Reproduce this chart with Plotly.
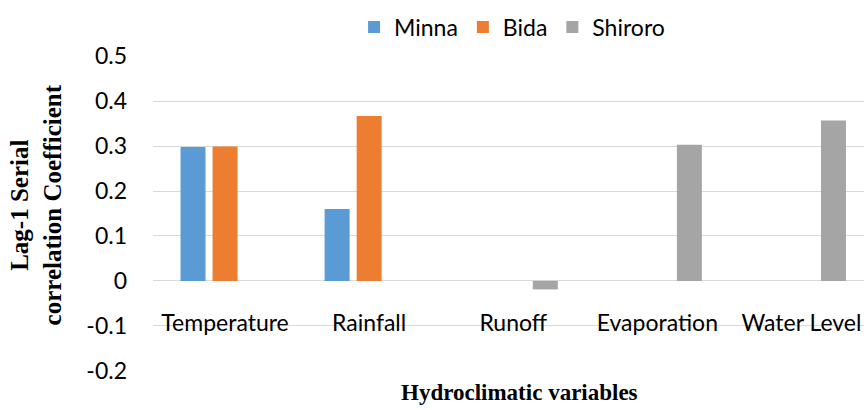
import plotly.graph_objects as go

categories = ["Temperature", "Rainfall", "Runoff", "Evaporation", "Water Level"]
minna = [0.298, 0.16, None, None, None]
bida = [0.299, 0.367, None, None, None]
shiroro = [None, None, -0.019, 0.303, 0.357]
y_tickvals = [0.5, 0.4, 0.3, 0.2, 0.1, 0, -0.1, -0.2]
y_ticktext = ["0.5", "0.4", "0.3", "0.2", "0.1", "0", "-0.1", "-0.2"]

TICKFONT = dict(family="Lato, Open Sans, sans-serif", size=23, color="#000000")
TITLEFONT = dict(family="Liberation Serif, Times New Roman, serif", size=25, color="#000000")

fig = go.Figure()
for name, vals, col in [("Minna", minna, "#5B9BD5"), ("Bida", bida, "#ED7D31"), ("Shiroro", shiroro, "#A5A5A5")]:
    fig.add_trace(go.Bar(x=categories, y=vals, name=name, marker=dict(color=col, line=dict(width=0))))

fig.update_layout(
    width=864, height=410,
    margin=dict(l=153, r=0, t=56, b=39),
    paper_bgcolor="white", plot_bgcolor="white",
    barmode="group", bargap=0.333, bargroupgap=0.22,
    showlegend=True,
    legend=dict(orientation="h", x=0.505, xanchor="center", y=1.092, yanchor="middle",
                font=TICKFONT, traceorder="normal", itemclick=False),
    xaxis=dict(type="category", range=[-0.5, 4.434], anchor="free", position=(0 + 0.2) / 0.7,
               showgrid=False, showline=False, ticks="", tickfont=TICKFONT, ticklabelstandoff=26),
    yaxis=dict(range=[-0.2005, 0.5005], tickvals=y_tickvals, ticktext=y_ticktext,
               showgrid=True, gridcolor="#D9D9D9", gridwidth=1.3,
               zeroline=True, zerolinecolor="#D9D9D9", zerolinewidth=1.3,
               showline=False, ticks="", tickfont=TICKFONT, ticklabelstandoff=25),
    annotations=[
        dict(text="<b>Lag-1 Serial<br>correlation Coefficient</b>", xref="paper", yref="paper",
             x=-0.164, y=0.527, xanchor="center", yanchor="middle", textangle=-90,
             showarrow=False, font=TITLEFONT),
        dict(text="<b>Hydroclimatic variables</b>", xref="paper", yref="paper",
             x=0.516, y=-0.115, xanchor="center", yanchor="bottom",
             showarrow=False, font=dict(family="Liberation Serif, Times New Roman, serif", size=23, color="#000000")),
    ],
)

fig.write_html(
    "out.html",
    config={"displayModeBar": False},
    post_script="document.body.style.margin='0';document.documentElement.style.overflow='hidden';document.body.style.overflow='hidden';",
)
